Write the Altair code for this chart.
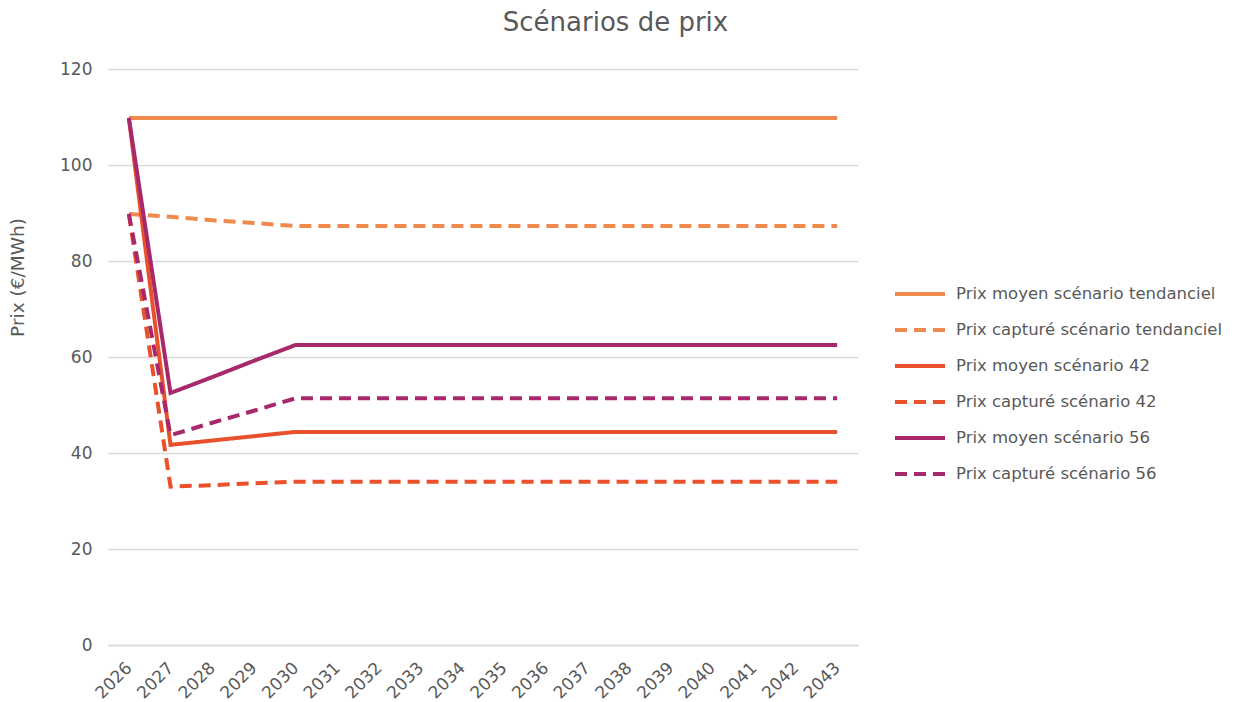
import altair as alt
import pandas as pd

years = [str(y) for y in range(2026, 2044)]

series_names = [
    "Prix moyen scénario tendanciel",
    "Prix capturé scénario tendanciel",
    "Prix moyen scénario 42",
    "Prix capturé scénario 42",
    "Prix moyen scénario 56",
    "Prix capturé scénario 56",
]

tend_moyen = [109.8, 109.8, 109.8, 109.8, 109.8, 109.8, 109.8, 109.8, 109.8,
              109.8, 109.8, 109.8, 109.8, 109.8, 109.8, 109.8, 109.8, 109.8]
tend_capt = [89.8, 89.2, 88.5, 87.9, 87.3, 87.3, 87.3, 87.3, 87.3,
             87.3, 87.3, 87.3, 87.3, 87.3, 87.3, 87.3, 87.3, 87.3]
s42_moyen = [109.8, 41.7, 42.6, 43.5, 44.4, 44.4, 44.4, 44.4, 44.4,
             44.4, 44.4, 44.4, 44.4, 44.4, 44.4, 44.4, 44.4, 44.4]
s42_capt = [89.8, 33.0, 33.3, 33.7, 34.0, 34.0, 34.0, 34.0, 34.0,
            34.0, 34.0, 34.0, 34.0, 34.0, 34.0, 34.0, 34.0, 34.0]
s56_moyen = [109.8, 52.5, 55.8, 59.2, 62.5, 62.5, 62.5, 62.5, 62.5,
             62.5, 62.5, 62.5, 62.5, 62.5, 62.5, 62.5, 62.5, 62.5]
s56_capt = [89.8, 43.7, 46.3, 48.8, 51.4, 51.4, 51.4, 51.4, 51.4,
            51.4, 51.4, 51.4, 51.4, 51.4, 51.4, 51.4, 51.4, 51.4]

all_values = [tend_moyen, tend_capt, s42_moyen, s42_capt, s56_moyen, s56_capt]

rows = []
for i, (name, vals) in enumerate(zip(series_names, all_values)):
    for yr, v in zip(years, vals):
        rows.append({"Année": yr, "Prix": v, "Série": name, "ordre": i})
df = pd.DataFrame(rows)

colors = ["#F0894C", "#F0894C", "#E8512C", "#E8512C", "#A7296B", "#A7296B"]
dashes = [[1, 0], [12, 7], [1, 0], [12, 7], [1, 0], [12, 7]]

grey = "#595959"
font = "DejaVu Sans"

legend_common = dict(title=None, orient="none", legendX=785, legendY=198,
                     labelFontSize=16.5, labelColor=grey, labelFont=font,
                     labelLimit=0, symbolSize=2500, symbolStrokeWidth=4,
                     rowPadding=0, labelOffset=9)

chart = alt.Chart(df).mark_line(strokeWidth=4, strokeJoin="miter").encode(
    x=alt.X("Année:O", scale=alt.Scale(padding=0.5),
            axis=alt.Axis(title=None, labelAngle=-45, labelFontSize=17,
                          labelColor=grey, labelFont=font, ticks=False,
                          labelAlign="right", labelBaseline="middle",
                          labelPadding=20, domainColor="#d9d9d9",
                          domainWidth=1.5, grid=False)),
    y=alt.Y("Prix:Q", scale=alt.Scale(domain=[0, 120], nice=False),
            axis=alt.Axis(title="Prix (€/MWh)", values=[0, 20, 40, 60, 80, 100, 120],
                          labelFontSize=17, labelColor=grey, labelFont=font,
                          titleFontSize=18.5, titleFontWeight="normal",
                          titleColor=grey, titleFont=font,
                          titleX=-81, titleY=208, titleAngle=-90,
                          titleAlign="center", titleBaseline="bottom",
                          ticks=False, labelPadding=16, domain=False,
                          gridColor="#d9d9d9", gridWidth=1.5)),
    color=alt.Color("Série:N", sort=series_names,
                    scale=alt.Scale(domain=series_names, range=colors),
                    legend=alt.Legend(**legend_common)),
    strokeDash=alt.StrokeDash("Série:N", sort=series_names,
                              scale=alt.Scale(domain=series_names, range=dashes),
                              legend=alt.Legend(**legend_common)),
    order=alt.Order("ordre:Q"),
).properties(
    width=750,
    height=576,
    title=alt.TitleParams("Scénarios de prix", fontSize=26, font=font,
                          fontWeight="normal", color=grey, anchor="middle",
                          frame="bounds", offset=24),
    autosize=alt.AutoSizeParams(type="none"),
    padding={"left": 100, "top": 61, "right": 370, "bottom": 60},
).configure_view(stroke=None)

chart.save("out.html", embed_options={"renderer": "svg", "actions": False})
